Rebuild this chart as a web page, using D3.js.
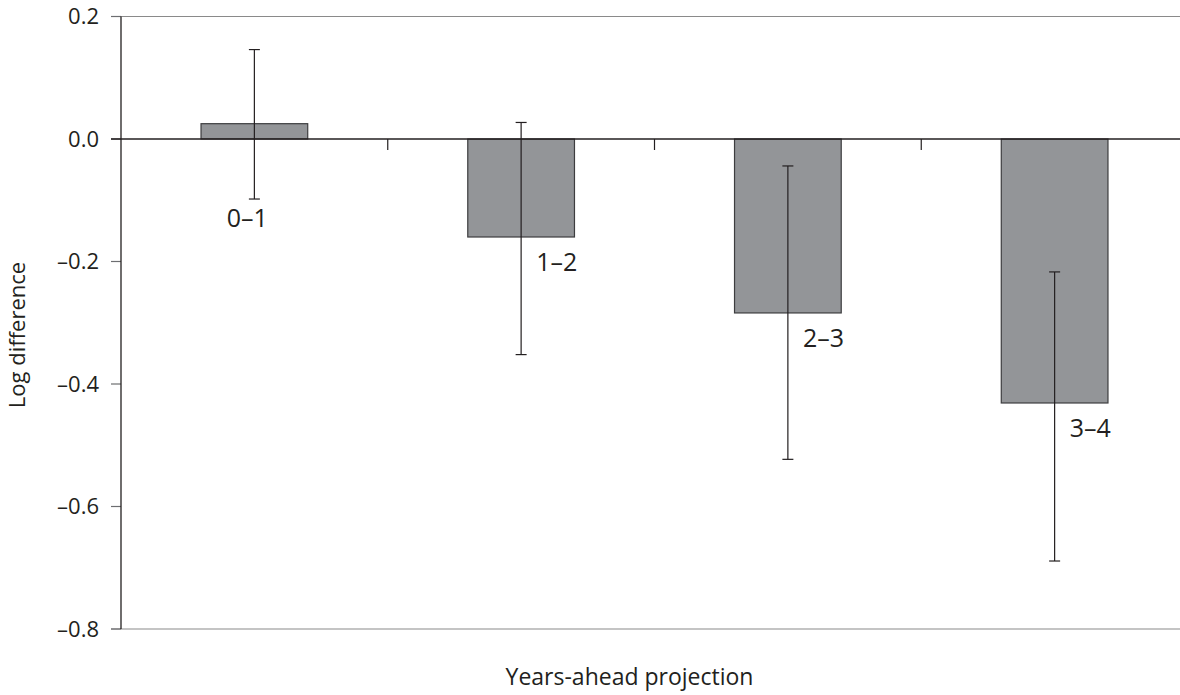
<!DOCTYPE html>
<html>
<head>
<meta charset="utf-8">
<script src="https://cdn.jsdelivr.net/npm/d3@7"></script>
<style>
  html, body { margin: 0; padding: 0; background: #fff; overflow: hidden; }
  svg { display: block; font-family: "Open Sans", "Noto Sans", sans-serif; }
</style>
</head>
<body>
<svg id="chart" width="1180" height="695"></svg>
<script>
// ---- data ----
const categories = ["0–1", "1–2", "2–3", "3–4"];
const values = [0.025, -0.160, -0.284, -0.431];
const errLow = [-0.098, -0.352, -0.523, -0.689];
const errHigh = [0.146, 0.027, -0.044, -0.217];
const yTicks = [0.2, 0.0, -0.2, -0.4, -0.6, -0.8];
const yTitle = "Log difference";
const xTitle = "Years-ahead projection";

// ---- layout ----
const svg = d3.select("#chart");
const plotLeft = 121, plotRight = 1188, plotTop = 16.5, plotBottom = 629;

const x = d3.scaleBand().domain(categories).range([plotLeft, plotRight])
  .paddingInner(0.6).paddingOuter(0.3);
const y = d3.scaleLinear().domain([-0.8, 0.2]).range([plotBottom, plotTop]);

const dark = "#231f20";
const grey = "#939598";
const fmt = v => d3.format(".1f")(v).replace("-", "–").replace("−", "–");

// frame lines at top/bottom of range (gray)
svg.selectAll("line.frame").data([0.2, -0.8]).join("line")
  .attr("x1", plotLeft - 10).attr("x2", 1180)
  .attr("y1", d => y(d)).attr("y2", d => y(d))
  .attr("stroke", "#8a8a8a").attr("stroke-width", 1.2);

// y tick marks + labels
svg.selectAll("line.ytick").data(yTicks).join("line")
  .attr("x1", plotLeft - 10).attr("x2", plotLeft)
  .attr("y1", d => y(d)).attr("y2", d => y(d))
  .attr("stroke", "#6d6e71").attr("stroke-width", 1.2);
svg.selectAll("text.ytl").data(yTicks).join("text")
  .attr("x", 99).attr("y", d => y(d)).attr("dy", "0.36em")
  .attr("text-anchor", "end").attr("font-size", 22).attr("fill", dark)
  .text(fmt);

// bars
const cx = c => x(c) + x.bandwidth() / 2;
svg.selectAll("rect.bar").data(categories).join("rect")
  .attr("x", c => x(c))
  .attr("width", x.bandwidth())
  .attr("y", (c, i) => y(Math.max(0, values[i])))
  .attr("height", (c, i) => Math.abs(y(values[i]) - y(0)))
  .attr("fill", grey).attr("stroke", "#3d3d3f").attr("stroke-width", 1.2);

// zero line (category axis)
svg.append("line")
  .attr("x1", plotLeft - 10).attr("x2", 1180)
  .attr("y1", y(0)).attr("y2", y(0))
  .attr("stroke", dark).attr("stroke-width", 1.3);

// category boundary ticks
const bounds = categories.slice(1).map(c => x(c) - x.step() * x.paddingInner() / 2);
svg.selectAll("line.xtick").data(bounds).join("line")
  .attr("x1", d => d).attr("x2", d => d)
  .attr("y1", y(0)).attr("y2", y(0) + 11)
  .attr("stroke", dark).attr("stroke-width", 1.2);

// y axis line
svg.append("line")
  .attr("x1", plotLeft).attr("x2", plotLeft)
  .attr("y1", plotTop).attr("y2", plotBottom)
  .attr("stroke", dark).attr("stroke-width", 1.3);

// error bars
const eb = svg.append("g").attr("stroke", dark).attr("stroke-width", 1.2);
categories.forEach((c, i) => {
  const xc = cx(c);
  eb.append("line").attr("x1", xc).attr("x2", xc)
    .attr("y1", y(errHigh[i])).attr("y2", y(errLow[i]));
  [errHigh[i], errLow[i]].forEach(v => {
    eb.append("line").attr("x1", xc - 5.5).attr("x2", xc + 5.5)
      .attr("y1", y(v)).attr("y2", y(v));
  });
});

// category labels
svg.selectAll("text.cat").data(categories).join("text")
  .attr("font-size", 25).attr("fill", dark)
  .attr("text-anchor", (c, i) => values[i] >= 0 ? "middle" : "start")
  .attr("x", (c, i) => values[i] >= 0 ? cx(c) - 7 : cx(c) + 15)
  .attr("y", (c, i) => values[i] >= 0 ? y(errLow[i]) + 28 : y(values[i]) + 34)
  .text(c => c);

// axis titles
svg.append("text")
  .attr("transform", "translate(25,335) rotate(-90)")
  .attr("text-anchor", "middle").attr("font-size", 22).attr("fill", dark)
  .text(yTitle);
svg.append("text")
  .attr("x", 629.5).attr("y", 685)
  .attr("text-anchor", "middle").attr("font-size", 23).attr("fill", dark)
  .text(xTitle);
</script>
</body>
</html>
